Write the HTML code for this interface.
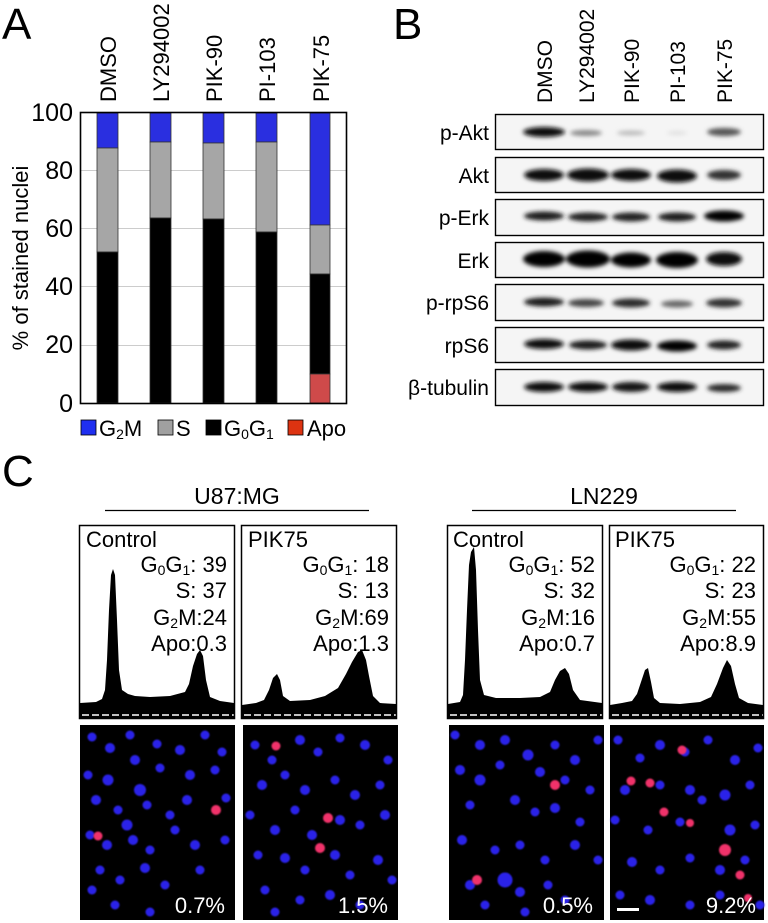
<!DOCTYPE html>
<html><head><meta charset="utf-8"><style>
html,body{margin:0;padding:0;background:#fff;}
svg{display:block;font-family:"Liberation Sans",Arial,sans-serif;}
</style></head><body>
<svg width="768" height="923" viewBox="0 0 768 923" xmlns="http://www.w3.org/2000/svg">
<defs>
<filter id="bl" x="-20%" y="-50%" width="140%" height="200%"><feGaussianBlur stdDeviation="2.2"/></filter>
<filter id="bl2"><feGaussianBlur stdDeviation="0.7"/></filter>
</defs>
<text x="2" y="39" font-size="44">A</text>
<text x="393" y="39" font-size="44">B</text>
<text x="2" y="486" font-size="44">C</text>

<!-- Panel A -->
<g font-size="22">
<text transform="translate(116,102) rotate(-90)">DMSO</text>
<text transform="translate(169,102) rotate(-90)">LY294002</text>
<text transform="translate(222,102) rotate(-90)">PIK-90</text>
<text transform="translate(275,102) rotate(-90)">PI-103</text>
<text transform="translate(329,102) rotate(-90)">PIK-75</text>
</g>
<g stroke="#ccc" stroke-width="1">
<line x1="80" x2="347" y1="170.5" y2="170.5"/><line x1="80" x2="347" y1="228.5" y2="228.5"/>
<line x1="80" x2="347" y1="286.5" y2="286.5"/><line x1="80" x2="347" y1="345.5" y2="345.5"/>
</g>
<g stroke="#333" stroke-width="0.8">
<rect x="97" y="113" width="21" height="35" fill="#2a2fe0"/>
<rect x="97" y="148" width="21" height="104" fill="#a6a6a6"/>
<rect x="97" y="252" width="21" height="151" fill="#000"/>
<rect x="150" y="113" width="21" height="29" fill="#2a2fe0"/>
<rect x="150" y="142" width="21" height="76" fill="#a6a6a6"/>
<rect x="150" y="218" width="21" height="185" fill="#000"/>
<rect x="203" y="113" width="21" height="30" fill="#2a2fe0"/>
<rect x="203" y="143" width="21" height="76" fill="#a6a6a6"/>
<rect x="203" y="219" width="21" height="184" fill="#000"/>
<rect x="256" y="113" width="21" height="29" fill="#2a2fe0"/>
<rect x="256" y="142" width="21" height="90" fill="#a6a6a6"/>
<rect x="256" y="232" width="21" height="171" fill="#000"/>
<rect x="310" y="113" width="20" height="112" fill="#2a2fe0"/>
<rect x="310" y="225" width="20" height="49" fill="#a6a6a6"/>
<rect x="310" y="274" width="20" height="100" fill="#000"/>
<rect x="310" y="374" width="20" height="29" fill="#cf4a4a"/>
</g>
<rect x="80.5" y="112.5" width="266" height="291" fill="none" stroke="#000" stroke-width="1.6"/>
<g font-size="25" text-anchor="end">
<text x="73" y="121">100</text><text x="73" y="179">80</text><text x="73" y="237">60</text>
<text x="73" y="295">40</text><text x="73" y="353">20</text><text x="73" y="412">0</text>
</g>
<text transform="translate(28,258) rotate(-90)" font-size="22" text-anchor="middle">% of stained nuclei</text>
<g stroke="#000" stroke-width="0.8">
<rect x="81" y="420" width="15" height="15" fill="#1f2ff0"/>
<rect x="158" y="420" width="15" height="15" fill="#a0a0a0"/>
<rect x="206" y="420" width="15" height="15" fill="#000"/>
<rect x="288" y="420" width="15" height="15" fill="#dd3311"/>
</g>
<g font-size="22">
<text x="99" y="436">G<tspan font-size="14" dy="3">2</tspan><tspan dy="-3">M</tspan></text>
<text x="176" y="436">S</text>
<text x="224" y="436">G<tspan font-size="14" dy="3">0</tspan><tspan dy="-3">G</tspan><tspan font-size="14" dy="3">1</tspan></text>
<text x="307" y="436">Apo</text>
</g>

<!-- Panel B -->
<g font-size="21">
<text transform="translate(552,103) rotate(-90)">DMSO</text>
<text transform="translate(594,103) rotate(-90)">LY294002</text>
<text transform="translate(639,103) rotate(-90)">PIK-90</text>
<text transform="translate(685,103) rotate(-90)">PI-103</text>
<text transform="translate(732,103) rotate(-90)">PIK-75</text>
</g>
<g font-size="21" text-anchor="end">
<text x="489" y="140">p-Akt</text>
<text x="489" y="183">Akt</text>
<text x="489" y="225">p-Erk</text>
<text x="489" y="268">Erk</text>
<text x="489" y="310">p-rpS6</text>
<text x="489" y="353">rpS6</text>
<text x="489" y="395">β-tubulin</text>
</g>
<g stroke="#000" stroke-width="1.4" fill="#f5f5f5">
<rect x="495.5" y="114.5" width="268" height="35"/>
<rect x="495.5" y="157.5" width="268" height="35"/>
<rect x="495.5" y="199.5" width="268" height="36"/>
<rect x="495.5" y="242.5" width="268" height="35"/>
<rect x="495.5" y="284.5" width="268" height="36"/>
<rect x="495.5" y="327.5" width="268" height="35"/>
<rect x="495.5" y="369.5" width="268" height="36"/>
</g>
<g filter="url(#bl)">
<ellipse cx="544" cy="132" rx="21" ry="5" fill="#111"/>
<ellipse cx="586" cy="133" rx="16" ry="3" fill="#888"/>
<ellipse cx="631" cy="133" rx="14" ry="2.5" fill="#bbb"/>
<ellipse cx="677" cy="133" rx="10" ry="2" fill="#e0e0e0"/>
<ellipse cx="724" cy="132" rx="17" ry="4" fill="#555"/>
<ellipse cx="544" cy="175" rx="20" ry="6" fill="#111"/>
<ellipse cx="588" cy="175" rx="21" ry="6.5" fill="#0a0a0a"/>
<ellipse cx="631" cy="175" rx="20" ry="6" fill="#111"/>
<ellipse cx="677" cy="176" rx="20" ry="6.5" fill="#0a0a0a"/>
<ellipse cx="724" cy="175" rx="17" ry="5" fill="#333"/>
<ellipse cx="544" cy="216" rx="20" ry="4.5" fill="#1a1a1a"/>
<ellipse cx="588" cy="217" rx="20" ry="4.5" fill="#222"/>
<ellipse cx="631" cy="217" rx="19" ry="4.5" fill="#222"/>
<ellipse cx="677" cy="217" rx="19" ry="4.5" fill="#1e1e1e"/>
<ellipse cx="724" cy="216" rx="20" ry="5.5" fill="#050505"/>
<ellipse cx="544" cy="259" rx="21" ry="8" fill="#050505"/>
<ellipse cx="588" cy="259" rx="22" ry="8.5" fill="#000"/>
<ellipse cx="631" cy="260" rx="20" ry="7.5" fill="#050505"/>
<ellipse cx="677" cy="260" rx="21" ry="8" fill="#000"/>
<ellipse cx="724" cy="259" rx="18" ry="7" fill="#0a0a0a"/>
<ellipse cx="544" cy="302" rx="20" ry="4.5" fill="#1a1a1a"/>
<ellipse cx="586" cy="303" rx="18" ry="4" fill="#444"/>
<ellipse cx="631" cy="303" rx="19" ry="4.5" fill="#2a2a2a"/>
<ellipse cx="677" cy="304" rx="16" ry="3.5" fill="#666"/>
<ellipse cx="724" cy="303" rx="18" ry="4.5" fill="#333"/>
<ellipse cx="544" cy="344" rx="20" ry="5" fill="#111"/>
<ellipse cx="588" cy="345" rx="19" ry="4.5" fill="#1a1a1a"/>
<ellipse cx="631" cy="345" rx="20" ry="5.5" fill="#0a0a0a"/>
<ellipse cx="677" cy="346" rx="20" ry="5.5" fill="#050505"/>
<ellipse cx="724" cy="345" rx="17" ry="4.5" fill="#222"/>
<ellipse cx="544" cy="387" rx="20" ry="5" fill="#111"/>
<ellipse cx="588" cy="387" rx="20" ry="5" fill="#111"/>
<ellipse cx="631" cy="387" rx="19" ry="5" fill="#151515"/>
<ellipse cx="677" cy="387" rx="20" ry="5" fill="#111"/>
<ellipse cx="724" cy="388" rx="17" ry="4" fill="#2a2a2a"/>
</g>

<!-- Panel C headers -->
<text x="237" y="504" font-size="23" text-anchor="middle">U87:MG</text>
<line x1="105" x2="369" y1="510.5" y2="510.5" stroke="#000" stroke-width="1.3"/>
<text x="604" y="504" font-size="23" text-anchor="middle">LN229</text>
<line x1="472" x2="736" y1="510.5" y2="510.5" stroke="#000" stroke-width="1.3"/>

<g fill="#000">
<path d="M80,713 L80,703 L96,702 L102,699 L105,690 L107,660 L109,610 L111,575 L113,569 L115,575 L117,620 L119,670 L122,690 L128,694 L135,696 L150,697 L170,696 L185,692 L189,684 L193,666 L197,654 L200,650 L203,656 L206,680 L210,697 L220,701 L234,703 L234,713 Z"/>
<path d="M242,713 L242,705 L256,703 L264,700 L269,690 L273,678 L277,674 L280,680 L283,696 L290,701 L310,700 L325,696 L338,688 L346,674 L352,662 L358,652 L362,650 L366,660 L369,676 L373,696 L380,703 L396,704 L396,713 Z"/>
<path d="M448,713 L448,704 L460,702 L463,695 L465,660 L467,610 L469,565 L471,552 L474,547 L476,570 L478,630 L480,680 L484,695 L496,698 L520,698 L540,697 L550,692 L555,680 L560,671 L565,668 L569,674 L573,690 L580,700 L602,703 L602,713 Z"/>
<path d="M610,713 L610,705 L622,703 L632,701 L637,694 L641,682 L645,670 L648,668 L651,682 L654,698 L660,703 L680,704 L700,702 L711,697 L717,684 L723,668 L727,660 L731,666 L735,684 L739,698 L748,703 L763,705 L763,713 Z"/>
</g>
<rect x="80" y="712" width="155" height="6" fill="#000"/>
<rect x="242" y="712" width="155" height="6" fill="#000"/>
<rect x="448" y="712" width="155" height="6" fill="#000"/>
<rect x="610" y="712" width="154" height="6" fill="#000"/>
<g stroke="#fff" stroke-width="1.6" stroke-dasharray="7,3">
<line x1="82" x2="234" y1="715" y2="715"/><line x1="244" x2="396" y1="715" y2="715"/>
<line x1="450" x2="602" y1="715" y2="715"/><line x1="612" x2="763" y1="715" y2="715"/>
</g>
<g fill="none" stroke="#000" stroke-width="1.5">
<rect x="79.5" y="525.5" width="155" height="193"/>
<rect x="241.5" y="525.5" width="155" height="193"/>
<rect x="447.5" y="525.5" width="155" height="193"/>
<rect x="609.5" y="525.5" width="154" height="193"/>
</g>
<g font-size="22">
<text x="86" y="547">Control</text>
<text x="248" y="547">PIK75</text>
<text x="453" y="547">Control</text>
<text x="615" y="547">PIK75</text>
</g>
<g font-size="22" text-anchor="end">
<text x="227" y="572">G<tspan font-size="14" dy="3">0</tspan><tspan dy="-3">G</tspan><tspan font-size="14" dy="3">1</tspan><tspan dy="-3">: 39</tspan></text>
<text x="227" y="598">S: 37</text>
<text x="227" y="625">G<tspan font-size="14" dy="3">2</tspan><tspan dy="-3">M:24</tspan></text>
<text x="227" y="651">Apo:0.3</text>
<text x="389" y="572">G<tspan font-size="14" dy="3">0</tspan><tspan dy="-3">G</tspan><tspan font-size="14" dy="3">1</tspan><tspan dy="-3">: 18</tspan></text>
<text x="389" y="598">S: 13</text>
<text x="389" y="625">G<tspan font-size="14" dy="3">2</tspan><tspan dy="-3">M:69</tspan></text>
<text x="389" y="651">Apo:1.3</text>
<text x="595" y="572">G<tspan font-size="14" dy="3">0</tspan><tspan dy="-3">G</tspan><tspan font-size="14" dy="3">1</tspan><tspan dy="-3">: 52</tspan></text>
<text x="595" y="598">S: 32</text>
<text x="595" y="625">G<tspan font-size="14" dy="3">2</tspan><tspan dy="-3">M:16</tspan></text>
<text x="595" y="651">Apo:0.7</text>
<text x="756" y="572">G<tspan font-size="14" dy="3">0</tspan><tspan dy="-3">G</tspan><tspan font-size="14" dy="3">1</tspan><tspan dy="-3">: 22</tspan></text>
<text x="756" y="598">S: 23</text>
<text x="756" y="625">G<tspan font-size="14" dy="3">2</tspan><tspan dy="-3">M:55</tspan></text>
<text x="756" y="651">Apo:8.9</text>
</g>

<rect x="80" y="725" width="155" height="195" fill="#000"/>
<rect x="243" y="725" width="155" height="195" fill="#000"/>
<rect x="449" y="725" width="155" height="195" fill="#000"/>
<rect x="610" y="725" width="154" height="195" fill="#000"/>
<g fill="#2a22e8" filter="url(#bl2)">
<circle cx="92" cy="737" r="4.5"/><circle cx="110" cy="748" r="5"/><circle cx="130" cy="735" r="4.5"/><circle cx="157" cy="744" r="4.5"/><circle cx="180" cy="750" r="5"/><circle cx="205" cy="735" r="4.5"/><circle cx="222" cy="752" r="4.5"/>
<circle cx="88" cy="775" r="4.5"/><circle cx="108" cy="780" r="5.5"/><circle cx="135" cy="760" r="5"/><circle cx="160" cy="768" r="4.5"/><circle cx="190" cy="775" r="5"/><circle cx="215" cy="770" r="4.5"/>
<circle cx="96" cy="800" r="5"/><circle cx="118" cy="810" r="4.5"/><circle cx="140" cy="790" r="6"/><circle cx="147" cy="805" r="4.5"/><circle cx="170" cy="815" r="4.5"/><circle cx="187" cy="800" r="5"/><circle cx="226" cy="798" r="4.5"/>
<circle cx="90" cy="835" r="4.5"/><circle cx="107" cy="845" r="5"/><circle cx="127" cy="825" r="5.5"/><circle cx="133" cy="840" r="5"/><circle cx="150" cy="850" r="4.5"/><circle cx="175" cy="830" r="4.5"/><circle cx="195" cy="845" r="5"/><circle cx="225" cy="840" r="4.5"/>
<circle cx="100" cy="870" r="4.5"/><circle cx="120" cy="880" r="4.5"/><circle cx="145" cy="868" r="5"/><circle cx="165" cy="885" r="4.5"/><circle cx="200" cy="870" r="4.5"/><circle cx="115" cy="905" r="4.5"/><circle cx="150" cy="912" r="4.5"/><circle cx="92" cy="890" r="4.5"/>
<circle cx="255" cy="745" r="4.5"/><circle cx="272" cy="760" r="4.5"/><circle cx="300" cy="740" r="5"/><circle cx="318" cy="752" r="4.5"/><circle cx="340" cy="738" r="4.5"/><circle cx="365" cy="745" r="5"/><circle cx="388" cy="760" r="4.5"/>
<circle cx="262" cy="785" r="5"/><circle cx="285" cy="775" r="4.5"/><circle cx="305" cy="790" r="5"/><circle cx="335" cy="780" r="4.5"/><circle cx="355" cy="795" r="5"/><circle cx="380" cy="785" r="4.5"/>
<circle cx="250" cy="815" r="4.5"/><circle cx="275" cy="830" r="5"/><circle cx="295" cy="810" r="4.5"/><circle cx="312" cy="835" r="5"/><circle cx="340" cy="820" r="5"/><circle cx="360" cy="825" r="4.5"/><circle cx="385" cy="815" r="5"/>
<circle cx="258" cy="855" r="4.5"/><circle cx="285" cy="858" r="5"/><circle cx="305" cy="870" r="4.5"/><circle cx="335" cy="855" r="5"/><circle cx="350" cy="875" r="4.5"/><circle cx="378" cy="860" r="5"/><circle cx="392" cy="880" r="4.5"/>
<circle cx="265" cy="890" r="4.5"/><circle cx="300" cy="900" r="4.5"/><circle cx="330" cy="895" r="5"/><circle cx="360" cy="905" r="4.5"/><circle cx="275" cy="912" r="4.5"/>
<circle cx="455" cy="735" r="4.5"/><circle cx="480" cy="745" r="5"/><circle cx="505" cy="740" r="5"/><circle cx="528" cy="755" r="5.5"/><circle cx="555" cy="745" r="4.5"/><circle cx="575" cy="760" r="5"/><circle cx="598" cy="740" r="4.5"/>
<circle cx="460" cy="770" r="5"/><circle cx="480" cy="780" r="5.5"/><circle cx="500" cy="765" r="4.5"/><circle cx="540" cy="772" r="5"/><circle cx="565" cy="780" r="4.5"/><circle cx="590" cy="790" r="4.5"/>
<circle cx="470" cy="805" r="4.5"/><circle cx="515" cy="800" r="5"/><circle cx="535" cy="812" r="4.5"/><circle cx="555" cy="808" r="5"/><circle cx="580" cy="822" r="4.5"/>
<circle cx="462" cy="840" r="5"/><circle cx="495" cy="850" r="4.5"/><circle cx="520" cy="845" r="4.5"/><circle cx="545" cy="860" r="4.5"/><circle cx="575" cy="845" r="5"/><circle cx="598" cy="860" r="4.5"/>
<circle cx="470" cy="885" r="5"/><circle cx="505" cy="880" r="7.5"/><circle cx="520" cy="892" r="5"/><circle cx="548" cy="885" r="4.5"/><circle cx="565" cy="900" r="4.5"/><circle cx="485" cy="905" r="4.5"/><circle cx="525" cy="912" r="4.5"/>
<circle cx="618" cy="740" r="4.5"/><circle cx="640" cy="758" r="4.5"/><circle cx="660" cy="745" r="5"/><circle cx="685" cy="752" r="4.5"/><circle cx="708" cy="740" r="4.5"/><circle cx="735" cy="760" r="5"/><circle cx="758" cy="748" r="4.5"/>
<circle cx="625" cy="790" r="5"/><circle cx="660" cy="785" r="4.5"/><circle cx="690" cy="790" r="5"/><circle cx="702" cy="800" r="4.5"/><circle cx="725" cy="795" r="5.5"/><circle cx="750" cy="785" r="4.5"/>
<circle cx="615" cy="820" r="4.5"/><circle cx="648" cy="830" r="4.5"/><circle cx="680" cy="822" r="4.5"/><circle cx="730" cy="830" r="5.5"/><circle cx="755" cy="825" r="4.5"/>
<circle cx="632" cy="862" r="5"/><circle cx="660" cy="870" r="4.5"/><circle cx="690" cy="858" r="4.5"/><circle cx="720" cy="870" r="5"/><circle cx="745" cy="860" r="4.5"/>
<circle cx="620" cy="895" r="4.5"/><circle cx="650" cy="900" r="5"/><circle cx="690" cy="905" r="4.5"/><circle cx="720" cy="895" r="4.5"/><circle cx="760" cy="905" r="4.5"/>
</g>
<g fill="#f0306a" filter="url(#bl2)">
<circle cx="98" cy="836" r="4.5"/><circle cx="216" cy="810" r="5"/>
<circle cx="276" cy="746" r="4.5"/><circle cx="328" cy="818" r="5"/><circle cx="320" cy="848" r="5"/>
<circle cx="555" cy="785" r="5"/><circle cx="477" cy="880" r="5"/>
<circle cx="682" cy="750" r="4.5"/><circle cx="631" cy="781" r="4.5"/><circle cx="650" cy="783" r="4.5"/><circle cx="664" cy="812" r="4.5"/><circle cx="690" cy="823" r="4"/><circle cx="725" cy="850" r="6"/><circle cx="740" cy="875" r="4.5"/><circle cx="748" cy="898" r="4"/>
</g>
<g font-size="22" fill="#fff" text-anchor="end">
<text x="225" y="913">0.7%</text>
<text x="388" y="913">1.5%</text>
<text x="593" y="913">0.5%</text>
<text x="756" y="913">9.2%</text>
</g>
<rect x="617" y="908" width="22" height="3" fill="#fff"/>
</svg>
</body></html>
